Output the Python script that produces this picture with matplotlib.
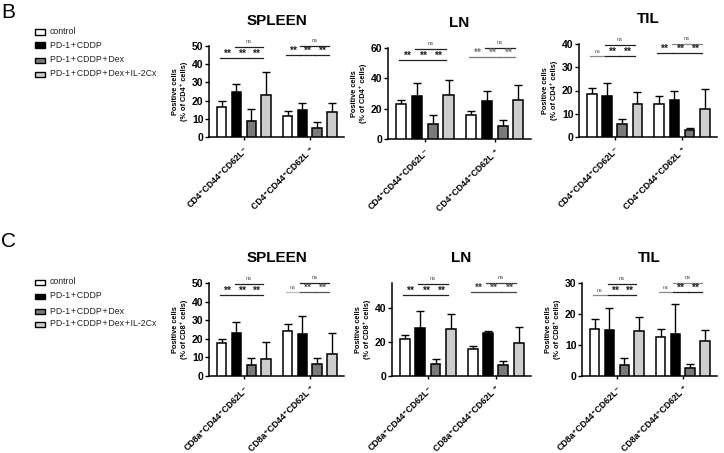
import numpy as np
import matplotlib
matplotlib.use("Agg")
import matplotlib.pyplot as plt
from matplotlib.patches import Rectangle

plt.rcParams["font.family"] = ["Liberation Sans", "DejaVu Sans", "Noto Sans CJK JP"]

W, H = 724, 453

treatments = ["control", "PD-1\u200a+\u200aCDDP", "PD-1\u200a+\u200aCDDP\u200a+\u200aDex",
              "PD-1\u200a+\u200aCDDP\u200a+\u200aDex\u200a+\u200aIL-2Cx"]
bar_colors = ["#ffffff", "#000000", "#7a7a7a", "#cdcdcd"]

cd4_labels = ["CD4⁺CD44⁺CD62L⁻", "CD4⁺CD44⁺CD62L ⁺"]
cd8_labels = ["CD8a⁺CD44⁺CD62L⁻", "CD8a⁺CD44⁺CD62L ⁺"]

# means / upper error per subset (rows) x treatment (cols)
b_spleen_mean = [[16.5, 24.5, 9.0, 23.2], [11.8, 15.1, 4.8, 13.6]]
b_spleen_err = [[3.3, 4.5, 6.2, 12.4], [2.7, 3.4, 3.7, 5.0]]
b_ln_mean = [[23.3, 28.6, 10.1, 29.2], [16.0, 25.3, 8.4, 25.9]]
b_ln_err = [[2.6, 8.3, 5.5, 9.5], [2.2, 6.1, 4.3, 9.7]]
b_til_mean = [[18.7, 17.7, 5.8, 14.4], [14.0, 15.8, 2.9, 12.1]]
b_til_err = [[2.5, 5.6, 1.8, 5.0], [3.6, 4.1, 1.0, 8.5]]

c_spleen_mean = [[18.0, 23.0, 5.9, 9.2], [24.1, 22.5, 6.3, 11.7]]
c_spleen_err = [[1.8, 6.0, 3.6, 9.3], [4.1, 9.5, 3.2, 11.3]]
c_ln_mean = [[21.8, 28.3, 7.1, 27.7], [15.8, 25.3, 6.7, 19.4]]
c_ln_err = [[2.6, 9.9, 2.8, 9.1], [2.0, 1.4, 2.4, 9.5]]
c_til_mean = [[15.3, 14.8, 3.5, 14.6], [12.6, 13.5, 2.5, 11.3]]
c_til_err = [[3.0, 7.2, 2.4, 4.3], [2.7, 9.6, 1.4, 3.5]]

# significance per subset: (ctrl-PD1, PD1-Dex, Dex-IL2) and top bracket (PD1-IL2)
b_spleen_sig = [["**", "**", "**", "ns"], ["**", "**", "**", "ns"]]
b_ln_sig = [["**", "**", "**", "ns"], ["**", "**", "**", "ns"]]
b_til_sig = [["ns", "**", "**", "ns"], ["**", "**", "**", "ns"]]
c_spleen_sig = [["**", "**", "**", "ns"], ["ns", "**", "**", "ns"]]
c_ln_sig = [["**", "**", "**", "ns"], ["**", "**", "**", "ns"]]
c_til_sig = [["ns", "**", "**", "ns"], ["ns", "**", "**", "ns"]]

BAR_W = 0.145
STEP = 0.225
offsets = (np.arange(4) - 1.5) * STEP


def px_axes(fig, left, right, top, bottom):
    return fig.add_axes([left / W, 1 - bottom / H, (right - left) / W, (bottom - top) / H])


def draw_panel(ax, means, errs, sigs, ylim, yticks, xlabels, ylabel, title, line_col):
    tr = ax.get_xaxis_transform()
    for gi in range(2):
        xs = gi + offsets
        ax.bar(xs, means[gi], width=BAR_W, color=bar_colors, edgecolor="black",
               linewidth=1.1, zorder=3)
        ax.errorbar(xs, means[gi], yerr=[np.zeros(4), errs[gi]], fmt="none",
                    ecolor="black", elinewidth=1.0, capsize=2.8, capthick=1.0, zorder=2)
        low, high = (0.87, 0.99) if gi == 0 else (0.90, 1.0)
        cols = line_col[gi]
        for k in range(3):
            x0, x1 = xs[k] - 0.03, xs[k + 1] - 0.04
            ax.plot([x0, x1], [low, low], color=cols[k], lw=0.9, transform=tr, clip_on=False)
            if sigs[gi][k] == "**":
                ax.text((x0 + x1) / 2, low - 0.01, "**", transform=tr, ha="center", va="bottom",
                        fontsize=7.5, fontweight="bold", color=cols[k])
            else:
                ax.text((x0 + x1) / 2, low + 0.02, "ns", transform=tr, ha="center", va="bottom",
                        fontsize=4, color="#555555")
        x0, x1 = xs[1] - 0.03, xs[3] - 0.04
        ax.plot([x0, x1], [high, high], color=cols[3], lw=0.9, transform=tr, clip_on=False)
        ax.text((x0 + x1) / 2, high + 0.03, sigs[gi][3], transform=tr, ha="center", va="bottom",
                fontsize=4.2, color="#555555")

    ax.set_xlim(-0.53, 1.52)
    ax.set_ylim(*ylim)
    ax.set_yticks(yticks)
    ax.set_xticks([0, 1])
    ax.set_xticklabels(xlabels, rotation=45, ha="right", va="top", rotation_mode="anchor",
                       fontsize=6.4, fontweight="bold")
    for lab in ax.get_yticklabels():
        lab.set_fontweight("bold")
        lab.set_fontsize(7.5)
    ax.tick_params(axis="y", length=3, width=1.0, pad=1)
    ax.tick_params(axis="x", length=2, width=1.0, pad=4)
    for s in ["top", "right"]:
        ax.spines[s].set_visible(False)
    for s in ["left", "bottom"]:
        ax.spines[s].set_linewidth(1.1)
    ax.set_ylabel(ylabel, fontsize=5.3, fontweight="bold", labelpad=3, linespacing=1.1)
    ax.set_title(title, fontsize=11, fontweight="bold", pad=15)


fig = plt.figure(figsize=(W / 100, H / 100), dpi=100)

blk = ["#222222"] * 4
gry = ["#888888"] + ["#222222"] * 3

b_axes = [px_axes(fig, 209, 344, 46, 137), px_axes(fig, 388, 531, 48, 139), px_axes(fig, 579, 717, 44, 137)]
c_axes = [px_axes(fig, 209, 344, 283, 376), px_axes(fig, 392, 531, 283, 376), px_axes(fig, 582, 717, 283, 376)]

yl4 = "Positive cells\n(% of CD4⁺ cells)"
yl8 = "Positive cells\n(% of CD8⁺ cells)"

draw_panel(b_axes[0], b_spleen_mean, b_spleen_err, b_spleen_sig, (0, 50), range(0, 51, 10),
           cd4_labels, yl4, "SPLEEN", [blk, blk])
draw_panel(b_axes[1], b_ln_mean, b_ln_err, b_ln_sig, (0, 60), range(0, 61, 20),
           cd4_labels, yl4, "LN", [blk, ["#777777"] * 3 + ["#222222"]])
draw_panel(b_axes[2], b_til_mean, b_til_err, b_til_sig, (0, 40), range(0, 41, 10),
           cd4_labels, yl4, "TIL", [gry, ["#222222"] * 3 + ["#888888"]])
draw_panel(c_axes[0], c_spleen_mean, c_spleen_err, c_spleen_sig, (0, 50), range(0, 51, 10),
           cd8_labels, yl8, "SPLEEN", [blk, ["#bbbbbb", "#555555", "#555555", "#222222"]])
draw_panel(c_axes[1], c_ln_mean, c_ln_err, c_ln_sig, (0, 55), range(0, 41, 20),
           cd8_labels, yl8, "LN", [blk, ["#444444"] * 4])
draw_panel(c_axes[2], c_til_mean, c_til_err, c_til_sig, (0, 30), range(0, 31, 10),
           cd8_labels, yl8, "TIL", [gry, ["#888888", "#222222", "#222222", "#888888"]])

# panel letters
fig.text(1 / W, 1 - 12 / H, "B", fontsize=15, va="center", ha="left")
fig.text(1 / W, 1 - 241 / H, "C", fontsize=15, va="center", ha="left")

# legends
for rows in ([32, 45, 60, 74], [282, 296, 311, 324]):
    for y, name, col in zip(rows, treatments, bar_colors):
        fig.patches.append(Rectangle((35 / W, 1 - (y + 2.5) / H), 10 / W, 5 / H,
                                     transform=fig.transFigure, facecolor=col,
                                     edgecolor="black", linewidth=1.0))
        fig.text(50 / W, 1 - y / H, name, fontsize=6.3, va="center", ha="left", color="#222222")

fig.savefig("out.png", dpi=100)
